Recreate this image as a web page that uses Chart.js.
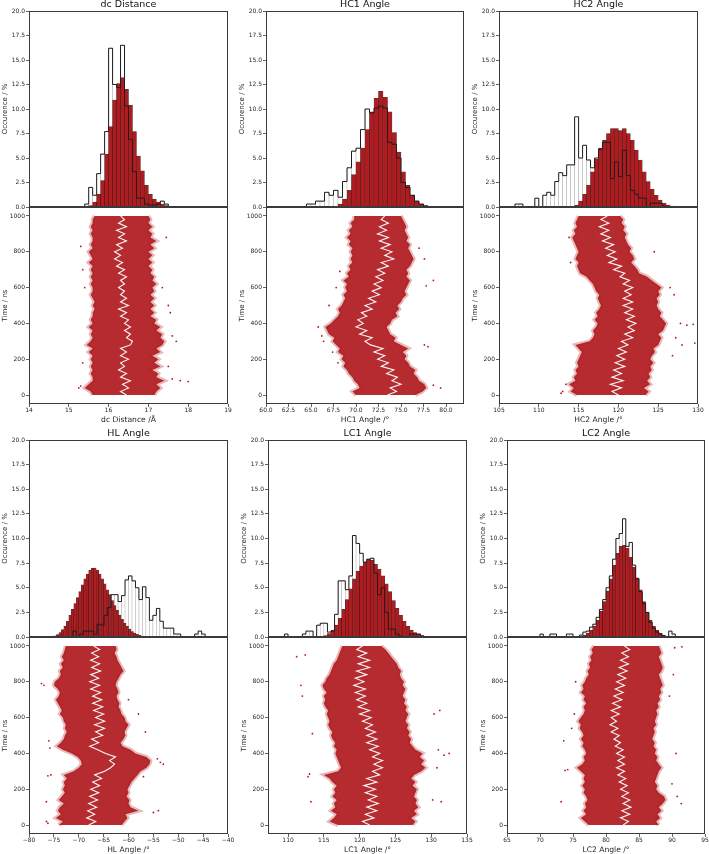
<!DOCTYPE html>
<html><head><meta charset="utf-8">
<script src="https://cdn.jsdelivr.net/npm/chart.js@4.4.1/dist/chart.umd.min.js"></script>
<style>
html,body{margin:0;padding:0;background:#fff;overflow:hidden;width:709px;height:854px;}
#wrap{position:relative;width:709px;height:854px;overflow:hidden;}
canvas{position:absolute;}
</style></head><body><div id="wrap"></div>
<script>
// ---------------- DATA ----------------
const histTicks = [0, 2.5, 5, 7.5, 10, 12.5, 15, 17.5, 20];
const timeTicks = [0, 200, 400, 600, 800, 1000];
const timeNs = [0,20,40,60,80,100,120,140,160,180,200,220,240,260,280,300,320,340,360,380,400,420,440,460,480,500,520,540,560,580,600,620,640,660,680,700,720,740,760,780,800,820,840,860,880,900,920,940,960,980,1000];

// dc Distance
const dcTicks = [14, 15, 16, 17, 18, 19];
const dcWhiteStart = 15.4, dcWhiteWidth = 0.1;
const dcWhitePct = [0.3,2.0,1.2,3.4,5.4,7.7,16.2,12.5,12.2,16.5,10.3,6.9,3.6,0.9,0.9,0.3,0.2,0.2,0.3,0.6,0.3];
const dcRedStart = 15.4, dcRedWidth = 0.1;
const dcRedPct = [0.05,0.15,0.5,1.3,2.7,5.4,8.2,10.9,12.6,13.2,12.0,10.4,7.7,5.2,3.7,2.2,1.3,0.8,0.5,0.3,0.15,0.05];
const dcMean = [16.45,16.3,16.5,16.35,16.55,16.3,16.45,16.25,16.4,16.3, 16.5,16.3,16.45,16.3,16.55,16.6,16.45,16.55,16.4,16.55, 16.4,16.5,16.3,16.45,16.25,16.5,16.3,16.45,16.3,16.4, 16.25,16.4,16.3,16.45,16.25,16.4,16.2,16.35,16.15,16.3, 16.15,16.35,16.2,16.45,16.25,16.4,16.2,16.45,16.25,16.4, 16.3];
const dcLeft = [15.6,15.55,15.4,15.5,15.6,15.6,15.55,15.6,15.55,15.6, 15.55,15.6,15.5,15.6,15.45,15.55,15.6,15.55,15.6,15.5, 15.6,15.55,15.6,15.6,15.65,15.6,15.65,15.6,15.55,15.6, 15.6,15.55,15.6,15.55,15.6,15.55,15.6,15.5,15.6,15.55, 15.5,15.6,15.55,15.6,15.6,15.55,15.6,15.55,15.6,15.6, 15.65];
const dcRight = [17.15,17.2,17.3,17.2,17.4,17.2,17.25,17.1,17.3,17.15, 17.25,17.1,17.3,17.2,17.35,17.4,17.3,17.35,17.2,17.3, 17.15,17.2,17.05,17.15,17.05,17.15,17.05,17.15,17.05,17.15, 17.1,17.2,17.1,17.15,17.05,17.1,17.0,17.1,17.0,17.1, 17.0,17.15,17.05,17.2,17.05,17.1,17.0,17.1,17.0,17.05, 17.0];
const dcOutX = [18.0,17.8,17.6,17.5,17.7,17.6,17.55,17.5,17.35,17.45,15.25,15.3,15.35,15.4,15.35,15.3];
const dcOutT = [75,80,90,160,300,330,460,500,600,880,40,50,180,600,700,830];

// HC1 Angle
const hc1Ticks = [60, 62.5, 65, 67.5, 70, 72.5, 75, 77.5, 80];
const hc1WhiteStart = 64.5, hc1WhiteWidth = 0.5;
const hc1WhitePct = [0.3,0.3,0.6,0.6,1.5,1.2,1.7,1.0,2.6,4.0,5.7,6.0,7.9,10.0,9.6,10.1,10.3,10.1,6.6,6.4,5.0,2.5,2.0,1.2,0.6,0.3,0.1,0.05];
const hc1RedStart = 67.5, hc1RedWidth = 0.5;
const hc1RedPct = [0.05,0.3,0.8,1.7,3.3,4.6,6.0,7.9,9.7,11.1,11.8,11.2,9.7,7.6,5.6,3.6,2.2,1.2,0.6,0.3,0.15,0.05];
const hc1Mean = [73.5,74.5,73.8,75.0,74.0,74.6,73.4,74.2,72.8,73.6, 72.4,73.2,72.0,73.0,71.6,71.0,71.8,70.4,71.2,70.0, 70.8,70.2,71.2,70.6,71.8,71.0,72.2,71.4,72.6,71.8, 72.8,72.0,73.0,72.2,73.2,72.4,73.6,72.8,74.2,73.2, 74.0,72.8,73.8,72.6,73.6,72.4,73.4,72.6,73.6,72.8, 73.2];
const hc1Left = [70.0,69.6,70.4,70.2,69.8,69.6,69.2,69.0,68.6,68.8, 68.4,68.6,68.0,68.2,67.8,67.4,67.6,67.0,66.8,66.6, 67.2,67.6,68.0,68.2,68.0,68.4,68.6,68.8,68.6,69.0, 68.8,69.0,68.6,69.2,69.0,69.4,69.2,69.6,69.4,69.6, 69.4,69.6,69.2,69.4,69.0,69.4,69.2,69.6,69.4,69.8, 69.8];
const hc1Right = [76.6,77.4,77.8,77.6,77.0,76.8,76.4,76.6,76.0,75.8, 75.4,75.6,75.2,75.8,75.0,74.2,74.4,73.8,73.6,73.4, 73.8,74.0,74.6,74.4,74.8,74.6,75.0,75.2,75.6,75.4, 75.6,75.8,76.0,75.6,75.8,75.6,76.0,76.2,76.4,76.2, 76.0,75.8,76.0,75.6,75.8,75.6,75.4,75.6,75.4,75.2, 75.0];
const hc1OutX = [79.4,78.6,78.0,77.6,78.6,77.8,77.6,77.0,65.8,66.2,66.4,67.4,68.2,67.8,67.0,68.0];
const hc1OutT = [40,55,270,280,640,610,760,820,380,330,300,240,690,600,500,180];

// HC2 Angle
const hc2Ticks = [105, 110, 115, 120, 125, 130];
const hc2WhiteStart = 107.0, hc2WhiteWidth = 0.5;
const hc2WhitePct = [0.3,0.3,0,0,0,0.9,0,1.2,1.5,1.2,2.6,3.5,3.2,4.3,4.3,9.2,5.0,6.3,4.8,4.0,5.0,5.9,6.6,6.6,2.9,4.6,3.1,5.8,3.2,1.7,1.3,0.9,0.9,0,0.4,0.4,0.4,0.1];
const hc2RedStart = 114.0, hc2RedWidth = 0.5;
const hc2RedPct = [0.05,0.2,0.6,1.3,2.2,3.6,4.9,6.0,6.8,7.5,8.0,8.0,7.8,8.0,7.5,6.8,5.8,4.8,3.6,2.6,1.8,1.2,0.7,0.4,0.2,0.1,0.05];
const hc2Mean = [120.0,119.2,120.4,119.0,120.6,119.2,120.4,119.4,120.8,119.6, 120.8,119.8,121.0,120.0,121.2,120.4,121.8,120.8,122.0,121.2, 122.2,121.0,122.0,120.8,121.8,120.6,121.8,120.6,121.6,120.8, 121.8,120.6,121.4,120.2,120.8,119.4,120.4,118.8,119.8,118.6, 119.6,118.4,119.4,118.0,119.0,117.8,118.8,117.6,118.8,117.8, 118.6];
const hc2Left = [114.8,114.0,114.4,113.8,114.6,114.4,114.8,114.6,115.0,114.8, 115.0,115.2,115.4,115.0,114.6,116.4,116.8,117.0,116.8,117.2, 117.4,117.0,117.4,117.2,117.6,117.8,117.6,117.4,117.6,117.2, 117.0,116.8,116.4,116.0,115.2,115.0,114.8,115.0,114.6,114.8, 115.0,114.8,114.6,114.4,114.2,114.6,114.4,114.8,114.6,114.8, 115.0];
const hc2Right = [123.4,123.8,123.2,124.0,123.6,124.0,123.8,124.2,124.0,124.4, 124.0,124.2,124.6,124.4,125.0,125.2,125.4,125.0,125.6,125.8, 126.0,125.6,125.2,125.4,125.0,124.8,125.0,124.8,125.2,125.0, 125.4,124.8,124.2,123.6,122.6,122.4,122.0,121.6,122.0,121.8, 121.4,121.6,121.2,121.0,120.8,121.0,120.6,120.8,120.4,120.6, 120.2];
const hc2OutX = [129.4,128.6,127.8,129.6,128.0,127.0,126.5,124.5,113.0,113.4,112.8,113.8,114.0,127.2,126.8];
const hc2OutT = [395,390,400,290,280,560,600,800,20,60,10,880,740,320,220];

// HL Angle
const hlTicks = [-80, -75, -70, -65, -60, -55, -50, -45, -40];
const hlWhiteStart = -71.2, hlWhiteWidth = 0.7;
const hlWhitePct = [0.6,0,0.3,0.6,0.6,0.6,0.3,1.3,1.2,2.2,3.0,4.3,4.3,3.6,4.2,5.8,6.2,5.7,5.0,3.8,5.1,4.0,1.7,2.2,2.9,1.6,0.9,0.9,0.9,0.3,0.3,0,0,0,0,0.3,0.6,0.3];
const hlRedStart = -76.0, hlRedWidth = 0.5;
const hlRedPct = [0.03,0.06,0.12,0.25,0.45,0.75,1.1,1.6,2.2,2.8,3.4,4.0,4.6,5.3,5.9,6.4,6.8,7.0,7.0,6.8,6.4,5.9,5.4,4.8,4.3,3.7,3.2,2.7,2.2,1.8,1.4,1.1,0.8,0.55,0.4,0.28,0.18,0.1,0.06,0.03];
const hlMean = [-68.0,-66.6,-68.4,-66.8,-68.2,-66.4,-68.0,-66.2,-67.8,-66.0, -67.6,-65.8,-67.2,-65.4,-66.8,-64.8,-63.6,-62.8,-63.8,-62.6, -64.6,-66.2,-67.8,-66.0,-67.4,-65.2,-66.6,-64.8,-66.8,-64.8, -66.6,-65.0,-67.0,-65.2,-67.2,-65.4,-67.2,-65.6,-67.6,-65.8, -67.8,-66.0,-67.6,-65.6,-67.4,-65.8,-67.6,-66.0,-67.4,-65.8, -67.0];
const hlLeft = [-74.0,-73.2,-74.6,-73.6,-74.2,-73.8,-73.0,-74.0,-73.4,-72.8, -73.2,-72.8,-73.0,-72.4,-73.0,-71.0,-70.0,-69.4,-69.6,-70.2, -71.4,-73.2,-74.4,-73.6,-73.0,-72.8,-72.4,-72.8,-72.6,-73.0, -73.2,-73.8,-73.4,-73.8,-74.2,-74.6,-74.0,-73.8,-74.2,-75.0, -74.8,-74.0,-73.6,-73.8,-73.2,-73.6,-73.0,-73.4,-73.0,-72.8, -72.6];
const hlRight = [-61.4,-60.8,-60.2,-60.6,-58.0,-59.6,-60.0,-59.8,-60.4,-60.0, -60.2,-59.8,-59.4,-58.8,-58.2,-57.6,-56.4,-55.8,-55.6,-56.4, -58.6,-59.6,-61.2,-61.6,-61.0,-60.6,-60.8,-60.4,-60.0,-60.6, -60.8,-61.4,-61.6,-62.0,-61.8,-62.2,-62.4,-62.0,-62.2,-62.6, -62.4,-62.0,-61.6,-61.0,-61.4,-61.8,-62.2,-62.4,-62.8,-62.4, -62.6];
const hlOutX = [-77.5,-77.0,-76.5,-76.2,-76.0,-75.8,-76.5,-53.0,-53.6,-54.2,-54.0,-55.0,-57.0,-56.6,-60.0,-58.0,-75.6,-76.2];
const hlOutT = [790,780,20,10,470,430,130,340,350,370,80,70,270,520,700,620,280,275];

// LC1 Angle
const lc1Ticks = [110, 115, 120, 125, 130, 135];
const lc1WhiteStart = 109.5, lc1WhiteWidth = 0.5;
const lc1WhitePct = [0.3,0,0,0,0,0.3,0.6,0.6,0,1.2,1.4,1.4,0.5,0.6,2.3,5.7,5.7,4.8,6.2,10.3,9.5,8.5,7.6,7.9,8.0,6.5,4.3,5.0,2.5,0.8,0.8,0.3,0.1,0,0,0.3,0.3,0.3,0.1];
const lc1RedStart = 114.5, lc1RedWidth = 0.5;
const lc1RedPct = [0.05,0.15,0.35,0.7,1.2,1.9,2.8,3.8,4.9,5.9,6.7,7.2,7.6,7.9,7.8,7.4,6.9,6.2,5.4,4.6,3.7,2.9,2.2,1.6,1.1,0.7,0.45,0.3,0.15,0.08,0.04];
const lc1Mean = [121.4,120.4,122.0,120.8,122.4,121.0,122.6,121.2,122.4,120.8, 122.2,120.6,122.4,121.0,122.8,121.8,123.2,122.0,123.2,121.8, 122.8,121.4,122.6,121.0,122.4,121.0,122.2,120.8,121.8,120.4, 121.6,120.0,121.4,119.8,121.0,119.6,120.8,119.4,120.8,119.2, 120.6,119.4,121.0,119.6,121.4,119.8,121.4,119.8,121.0,119.6, 120.4];
const lc1Left = [117.0,115.8,116.4,116.8,116.0,116.6,116.4,116.8,116.2,116.6, 116.4,116.8,116.2,115.8,115.0,117.0,117.4,117.2,117.0,116.8, 116.6,116.8,116.4,116.6,116.2,116.0,116.2,115.8,115.6,115.8, 115.6,115.4,115.6,115.2,115.0,115.2,115.0,115.4,115.0,114.8, 115.2,115.4,115.8,116.0,116.2,116.4,116.8,117.0,117.2,117.4, 117.6];
const lc1Right = [127.4,127.8,127.2,128.0,127.6,128.2,127.8,128.0,127.6,127.8, 128.0,127.4,127.8,127.2,127.6,128.6,129.2,128.6,129.0,128.4, 128.8,127.8,127.4,127.0,127.2,126.8,127.0,126.6,126.8,126.4, 126.6,126.8,126.4,126.6,126.2,126.4,126.0,126.2,126.4,126.0, 126.2,125.8,125.6,125.8,125.4,125.2,124.8,124.4,124.0,123.6, 123.0];
const lc1OutX = [111.2,112.4,111.8,112.0,113.4,113.0,112.8,131.2,130.4,131.0,131.8,130.8,130.2,131.4,113.2,132.5];
const lc1OutT = [940,950,780,720,510,285,270,640,620,420,390,320,140,130,130,400];

// LC2 Angle
const lc2Ticks = [65, 70, 75, 80, 85, 90, 95];
const lc2WhiteStart = 70.0, lc2WhiteWidth = 0.5;
const lc2WhitePct = [0.3,0,0,0.3,0.3,0,0,0,0.3,0.3,0,0.05,0.2,0.5,0.6,1.0,1.3,2.0,2.8,3.8,5.0,6.2,7.9,10.0,10.5,12.0,9.2,9.6,7.3,5.9,4.6,3.4,2.5,1.5,0.9,0.5,0.3,0.1,0.05,0.6,0.3,0.05];
const lc2RedStart = 75.5, lc2RedWidth = 0.5;
const lc2RedPct = [0.03,0.08,0.2,0.4,0.7,1.1,1.7,2.6,3.6,4.7,5.9,7.3,8.5,9.2,9.3,9.0,8.1,7.1,6.0,4.8,3.6,2.5,1.7,1.1,0.7,0.4,0.2,0.1,0.04];
const lc2Mean = [82.6,83.4,82.2,83.6,82.4,83.8,82.6,83.6,82.4,83.4, 82.2,83.2,82.0,83.0,81.8,82.8,81.6,82.8,81.8,82.8, 81.6,82.6,81.4,82.2,81.2,82.0,80.8,81.8,80.6,81.6, 80.8,82.0,80.8,82.2,81.0,82.4,81.2,82.6,81.4,82.8, 81.6,83.0,81.8,83.2,82.0,83.4,82.2,83.4,82.4,83.6, 82.8];
const lc2Left = [77.4,76.8,76.2,77.0,76.6,77.0,76.8,77.2,77.0,76.6, 76.8,76.4,76.8,76.6,76.8,76.2,75.6,76.4,76.8,76.6, 77.0,76.8,76.4,76.6,76.2,76.6,76.4,76.0,76.2,75.8, 76.2,76.6,76.8,76.6,77.0,76.6,76.8,76.2,76.6,76.4, 76.8,77.0,77.4,77.2,77.6,77.4,77.8,77.6,78.0,77.8, 78.2];
const lc2Right = [88.0,87.6,88.2,87.8,88.4,88.0,88.6,89.0,88.8,88.0, 87.6,87.8,87.4,87.6,87.8,88.0,88.4,88.0,87.6,87.8, 87.4,87.6,87.2,87.4,87.0,87.2,87.4,87.2,87.6,87.4, 87.6,87.8,87.6,88.0,87.8,88.2,88.0,88.4,88.2,88.6, 88.4,88.2,88.0,88.4,88.6,88.4,88.2,88.0,88.4,88.2, 88.0];
const lc2OutX = [91.5,90.4,73.2,73.6,74.2,73.8,90.8,91.4,90.6,90.0,75.4,75.2,74.8,89.6,90.2];
const lc2OutT = [995,990,130,470,310,305,160,120,400,230,800,620,540,720,840];

// ---------------- RENDERING ----------------
Chart.defaults.font.family = "'DejaVu Sans', sans-serif";
const RED = '#b01b1f';
const TXT = '#262626';
const fmtInt = v => (v < 0 ? '\u2212' + Math.abs(v) : String(v));
const fmt1 = v => v.toFixed(1);

const panels = [
  {title:'dc Distance', xLabel:'dc Distance /\u00c5', xMin:14, xMax:19, xTicks:dcTicks, fmt:fmtInt,
   w:[dcWhiteStart,dcWhiteWidth,dcWhitePct], r:[dcRedStart,dcRedWidth,dcRedPct],
   mean:dcMean, left:dcLeft, right:dcRight, ox:dcOutX, ot:dcOutT,
   box:{l:29, r:228, top:11, mid:207, bot:404}},
  {title:'HC1 Angle', xLabel:'HC1 Angle /\u00b0', xMin:60, xMax:82, xTicks:hc1Ticks, fmt:fmt1,
   w:[hc1WhiteStart,hc1WhiteWidth,hc1WhitePct], r:[hc1RedStart,hc1RedWidth,hc1RedPct],
   mean:hc1Mean, left:hc1Left, right:hc1Right, ox:hc1OutX, ot:hc1OutT,
   box:{l:266, r:464, top:11, mid:207, bot:404}},
  {title:'HC2 Angle', xLabel:'HC2 Angle /\u00b0', xMin:105, xMax:130, xTicks:hc2Ticks, fmt:fmtInt,
   w:[hc2WhiteStart,hc2WhiteWidth,hc2WhitePct], r:[hc2RedStart,hc2RedWidth,hc2RedPct],
   mean:hc2Mean, left:hc2Left, right:hc2Right, ox:hc2OutX, ot:hc2OutT,
   box:{l:499, r:698, top:11, mid:207, bot:404}},
  {title:'HL Angle', xLabel:'HL Angle /\u00b0', xMin:-80, xMax:-40, xTicks:hlTicks, fmt:fmtInt,
   w:[hlWhiteStart,hlWhiteWidth,hlWhitePct], r:[hlRedStart,hlRedWidth,hlRedPct],
   mean:hlMean, left:hlLeft, right:hlRight, ox:hlOutX, ot:hlOutT,
   box:{l:29, r:228, top:440, mid:637, bot:834}},
  {title:'LC1 Angle', xLabel:'LC1 Angle /\u00b0', xMin:107.2, xMax:135, xTicks:lc1Ticks, fmt:fmtInt,
   w:[lc1WhiteStart,lc1WhiteWidth,lc1WhitePct], r:[lc1RedStart,lc1RedWidth,lc1RedPct],
   mean:lc1Mean, left:lc1Left, right:lc1Right, ox:lc1OutX, ot:lc1OutT,
   box:{l:268, r:467, top:440, mid:637, bot:834}},
  {title:'LC2 Angle', xLabel:'LC2 Angle /\u00b0', xMin:65, xMax:95, xTicks:lc2Ticks, fmt:fmtInt,
   w:[lc2WhiteStart,lc2WhiteWidth,lc2WhitePct], r:[lc2RedStart,lc2RedWidth,lc2RedPct],
   mean:lc2Mean, left:lc2Left, right:lc2Right, ox:lc2OutX, ot:lc2OutT,
   box:{l:507, r:705, top:440, mid:637, bot:834}}
];

const frame = {
  id: 'frame',
  afterDraw(c) {
    const a = c.chartArea, x = c.ctx;
    x.save();
    x.strokeStyle = '#3a3a3a';
    x.lineWidth = 1;
    x.strokeRect(Math.round(a.left) + 0.5, Math.round(a.top) + 0.5,
                 Math.round(a.right - a.left) - 1, Math.round(a.bottom - a.top) - 1);
    x.restore();
  }
};

function mkCanvas(left, top, w, h) {
  const cv = document.createElement('canvas');
  cv.width = w; cv.height = h;
  cv.style.left = left + 'px'; cv.style.top = top + 'px';
  cv.style.width = w + 'px'; cv.style.height = h + 'px';
  document.getElementById('wrap').appendChild(cv);
  return cv;
}

function barPts(start, width, vals) {
  return vals.map((v, i) => ({x: start + (i + 0.5) * width, y: v}));
}
function stepPts(start, width, vals) {
  const pts = [{x: start, y: 0}];
  vals.forEach((v, i) => pts.push({x: start + i * width, y: v}));
  pts.push({x: start + vals.length * width, y: 0});
  return pts;
}

const tickGrid = {drawOnChartArea: false, drawTicks: true, tickLength: 3, color: '#3a3a3a', lineWidth: 0.8};

function makeHist(p) {
  const L = 30, R = 8, T = 11, B = 5;
  const b = p.box, w = b.r - b.l, h = b.mid - b.top;
  const cv = mkCanvas(b.l - L, b.top - T, w + L + R, h + T + B);
  new Chart(cv, {
    type: 'bar',
    data: {datasets: [
      {type: 'line', data: stepPts(p.w[0], p.w[1], p.w[2]), borderColor: '#1e1e1e', borderWidth: 1,
       pointRadius: 0, stepped: true, fill: false, order: 0},
      {type: 'bar', data: barPts(p.r[0], p.r[1], p.r[2]), backgroundColor: RED,
       borderColor: 'rgba(45,0,0,0.8)', borderWidth: 0.6, barThickness: 'flex', stack: 'h',
       barPercentage: 1, categoryPercentage: 1, order: 1},
      {type: 'bar', data: barPts(p.w[0], p.w[1], p.w[2]), backgroundColor: '#ffffff',
       borderColor: '#b5b5b5', borderWidth: 0.6, barThickness: 'flex', stack: 'h',
       barPercentage: 1, categoryPercentage: 1, order: 2}
    ]},
    options: {
      responsive: false, animation: false, devicePixelRatio: 1,
      layout: {padding: {left: 0, right: R, top: 0, bottom: B}},
      plugins: {
        legend: {display: false}, tooltip: {enabled: false},
        title: {display: true, text: p.title, fullSize: false, color: '#111',
                font: {size: 9.5, weight: 'normal', lineHeight: '10px'}, padding: {top: 0, bottom: 1}}
      },
      scales: {
        x: {type: 'linear', min: p.xMin, max: p.xMax, display: false, offset: false},
        y: {type: 'linear', min: 0, max: 20, stacked: false,
            afterFit: s => { s.width = L; },
            afterBuildTicks: s => { s.ticks = histTicks.map(v => ({value: v})); },
            ticks: {callback: v => v.toFixed(1), font: {size: 6, lineHeight: 1}, padding: 1, color: TXT, autoSkip: false},
            grid: tickGrid, border: {display: false},
            title: {display: true, text: 'Occurence / %', color: TXT,
                    font: {size: 7, lineHeight: '12px'}, padding: {top: 0, bottom: 0}}}
      }
    },
    plugins: [frame]
  });
}

function makeScatter(p) {
  const L = 30, R = 8, T = 5, B = 22;
  const b = p.box, w = b.r - b.l, h = b.bot - b.mid;
  const cv = mkCanvas(b.l - L, b.mid - T, w + L + R, h + T + B);
  const pts = xs => timeNs.map((t, i) => ({x: xs[i], y: t}));
  const outs = p.ox.map((v, i) => ({x: v, y: p.ot[i]}));
  new Chart(cv, {
    type: 'line',
    data: {datasets: [
      {data: pts(p.mean), borderColor: '#f7f7f7', borderWidth: 1.1, pointRadius: 0, fill: false, order: 0},
      {data: outs, showLine: false, pointRadius: 0.9, pointBorderWidth: 0,
       pointBackgroundColor: RED, borderColor: RED, fill: false, order: 1},
      {data: pts(p.left), borderColor: 'rgba(176,27,31,0.3)', borderWidth: 4, pointRadius: 0,
       backgroundColor: 'rgba(176,27,31,0.93)', fill: '+1', order: 3},
      {data: pts(p.right), borderColor: 'rgba(176,27,31,0.3)', borderWidth: 4, pointRadius: 0,
       fill: false, order: 2}
    ]},
    options: {
      indexAxis: 'y',
      responsive: false, animation: false, devicePixelRatio: 1,
      layout: {padding: {left: 0, right: R, top: T, bottom: 0}},
      plugins: {legend: {display: false}, tooltip: {enabled: false}},
      scales: {
        x: {type: 'linear', position: 'bottom', min: p.xMin, max: p.xMax,
            afterFit: s => { s.height = B; },
            afterBuildTicks: s => { s.ticks = p.xTicks.map(v => ({value: v})); },
            ticks: {callback: v => p.fmt(v), font: {size: 6, lineHeight: 1}, padding: 0, color: TXT,
                    autoSkip: false, maxRotation: 0},
            grid: tickGrid, border: {display: false},
            title: {display: true, text: p.xLabel, color: TXT,
                    font: {size: 7.6, lineHeight: '10px'}, padding: {top: 0, bottom: 1}}},
        y: {type: 'linear', position: 'left', min: -50, max: 1050,
            afterFit: s => { s.width = L; },
            afterBuildTicks: s => { s.ticks = timeTicks.map(v => ({value: v})); },
            ticks: {callback: v => String(v), font: {size: 6, lineHeight: 1}, padding: 1, color: TXT, autoSkip: false},
            grid: tickGrid, border: {display: false},
            title: {display: true, text: 'Time / ns', color: TXT,
                    font: {size: 7, lineHeight: '12px'}, padding: {top: 0, bottom: 0}}}
      }
    },
    plugins: [frame]
  });
}

panels.forEach(p => { makeHist(p); makeScatter(p); });
</script></body></html>
